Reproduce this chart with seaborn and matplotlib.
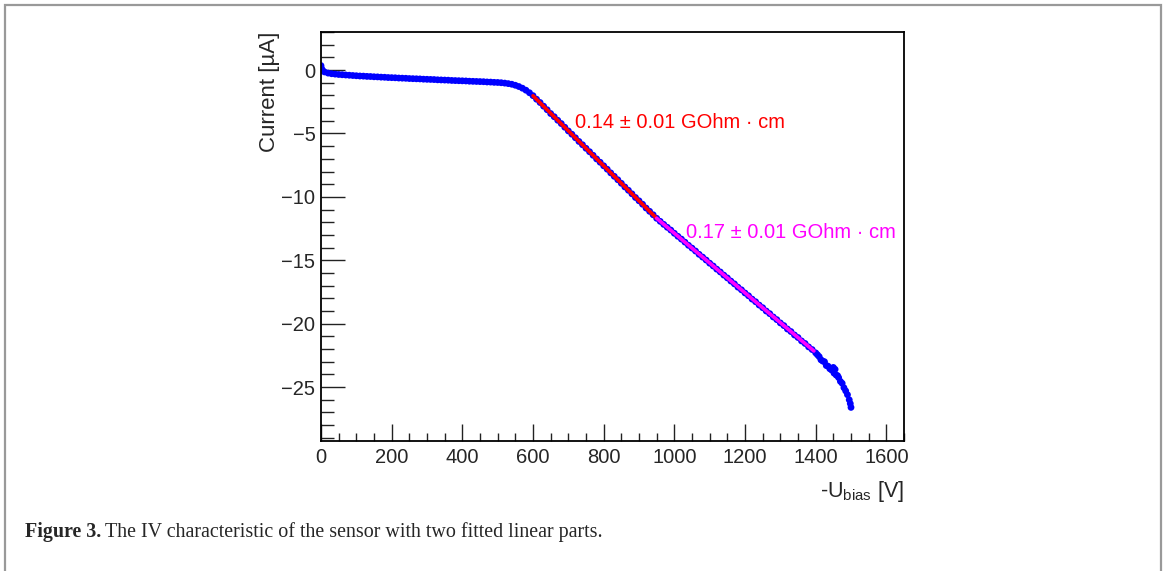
import matplotlib
matplotlib.use("Agg")
import matplotlib.pyplot as plt
from matplotlib.patches import Rectangle
from matplotlib.ticker import MultipleLocator
import seaborn as sns
import pandas as pd

# Measured IV curve: reverse bias voltage [V] and leakage current [uA]
voltage = [
    0, 2, 5, 10, 20, 30, 40, 50, 60, 70, 80, 90, 100,
    110, 120, 130, 140, 150, 160, 170, 180, 190, 200,
    210, 220, 230, 240, 250, 260, 270, 280, 290, 300,
    310, 320, 330, 340, 350, 360, 370, 380, 390, 400,
    410, 420, 430, 440, 450, 460, 470, 480, 490, 500,
    510, 520, 530, 540, 550, 560, 570, 580, 590, 600,
    610, 620, 630, 640, 650, 660, 670, 680, 690, 700,
    710, 720, 730, 740, 750, 760, 770, 780, 790, 800,
    810, 820, 830, 840, 850, 860, 870, 880, 890, 900,
    910, 920, 930, 940, 950, 960, 970, 980, 990, 1000,
    1010, 1020, 1030, 1040, 1050, 1060, 1070, 1080, 1090, 1100,
    1110, 1120, 1130, 1140, 1150, 1160, 1170, 1180, 1190, 1200,
    1210, 1220, 1230, 1240, 1250, 1260, 1270, 1280, 1290, 1300,
    1310, 1320, 1330, 1340, 1350, 1360, 1370, 1380, 1390, 1400,
    1405, 1410, 1415, 1420, 1425, 1430, 1435, 1440, 1445, 1450,
    1452, 1455, 1458, 1462, 1465, 1470, 1475, 1480, 1485, 1490,
    1495, 1498, 1500,
]
current = [
    0.35, 0.10, -0.05, -0.15, -0.24, -0.29, -0.32, -0.35, -0.37, -0.39, -0.41, -0.43, -0.45,
    -0.47, -0.48, -0.50, -0.51, -0.53, -0.54, -0.56, -0.57, -0.59, -0.60,
    -0.61, -0.63, -0.64, -0.65, -0.67, -0.68, -0.69, -0.70, -0.72, -0.73,
    -0.74, -0.75, -0.77, -0.78, -0.79, -0.80, -0.82, -0.83, -0.84, -0.85,
    -0.86, -0.88, -0.89, -0.90, -0.91, -0.92, -0.94, -0.95, -0.97, -0.98,
    -1.00, -1.03, -1.07, -1.12, -1.20, -1.30, -1.43, -1.59, -1.79, -2.02,
    -2.30, -2.56, -2.85, -3.13, -3.43, -3.68, -3.96, -4.22, -4.51, -4.80,
    -5.06, -5.34, -5.63, -5.89, -6.17, -6.44, -6.72, -7.01, -7.27, -7.55,
    -7.82, -8.11, -8.38, -8.65, -8.93, -9.22, -9.48, -9.76, -10.05, -10.31,
    -10.58, -10.88, -11.14, -11.41, -11.69, -11.93, -12.17, -12.40, -12.62, -12.87,
    -13.11, -13.33, -13.57, -13.82, -14.04, -14.27, -14.53, -14.75, -14.98, -15.23,
    -15.45, -15.70, -15.92, -16.17, -16.39, -16.64, -16.86, -17.12, -17.33, -17.58,
    -17.80, -18.06, -18.27, -18.53, -18.74, -19.00, -19.21, -19.47, -19.68, -19.94,
    -20.15, -20.42, -20.62, -20.89, -21.09, -21.36, -21.56, -21.83, -22.04, -22.30,
    -22.45, -22.60, -22.85, -22.95, -23.00, -23.30, -23.35, -23.55, -23.65, -23.45,
    -23.90, -23.60, -24.05, -24.10, -24.25, -24.55, -24.70, -25.05, -25.30, -25.60,
    -26.00, -26.30, -26.60,
]

# Linear fits of the two regions (end points of each fitted segment)
fit_low_v = [600, 950]
fit_low_i = [-2.03, -11.69]
fit_high_v = [950, 1395]
fit_high_i = [-11.69, -22.15]

fit_low_label = "0.14 \u00b1 0.01 GOhm \u00b7 cm"
fit_high_label = "0.17 \u00b1 0.01 GOhm \u00b7 cm"

x_ticks = [0, 200, 400, 600, 800, 1000, 1200, 1400, 1600]
y_ticks = [0, -5, -10, -15, -20, -25]

sns.set_style("white")
plt.rcParams["font.family"] = ["Liberation Sans", "DejaVu Sans"]

fig = plt.figure(figsize=(11.66, 5.71), dpi=100)
ax = fig.add_axes([321 / 1166, 1 - 441 / 571, (904 - 321) / 1166, (441 - 32) / 571])

iv = pd.DataFrame({"U": voltage, "I": current})
sns.scatterplot(data=iv, x="U", y="I", ax=ax, color="#0000ff", s=24,
                linewidth=0, edgecolor="none", zorder=2)

sns.lineplot(x=fit_low_v, y=fit_low_i, ax=ax, color="#ff0000", linewidth=2.6, zorder=3)
sns.lineplot(x=fit_high_v, y=fit_high_i, ax=ax, color="#ff00ff", linewidth=2.6, zorder=3)

ax.text(720, -4.15, fit_low_label, color="#ff0000", fontsize=14.5, va="center", ha="left")
ax.text(1033, -12.8, fit_high_label, color="#ff00ff", fontsize=14.5, va="center", ha="left")

ax.set_xlim(0, 1650)
ax.set_ylim(-29.25, 3.0)
ax.set_xticks(x_ticks)
ax.set_yticks(y_ticks)
ax.xaxis.set_minor_locator(MultipleLocator(50))
ax.yaxis.set_minor_locator(MultipleLocator(1))
ax.tick_params(axis="both", which="both", direction="in", bottom=True, left=True,
               top=False, right=False, labelsize=14.5, color="#222222", width=1.0)
ax.tick_params(axis="y", which="major", length=17, pad=4)
ax.tick_params(axis="y", which="minor", length=9)
ax.tick_params(axis="x", which="major", length=12, pad=5)
ax.tick_params(axis="x", which="minor", length=6)

for sp in ax.spines.values():
    sp.set_visible(True)
    sp.set_color("black")
    sp.set_linewidth(1.3)

ax.set_xlabel("-U$_\\mathregular{bias}$ [V]", fontsize=15.5, loc="right", labelpad=9)
ax.set_ylabel("Current [\u00b5A]", fontsize=16, loc="top", labelpad=1)

# Page frame and figure caption
fig.patches.append(Rectangle((5 / 1166, -0.05), 1156 / 1166, 1 - 5 / 571 + 0.05,
                             transform=fig.transFigure, fill=False,
                             edgecolor="#999999", linewidth=1.6))
fig.text(25 / 1166, 1 - 537 / 571, "Figure 3.", fontsize=14.4, fontweight="bold",
         family="Liberation Serif", va="baseline", ha="left")
fig.text(105 / 1166, 1 - 537 / 571,
         "The IV characteristic of the sensor with two fitted linear parts.",
         fontsize=14.4, family="Liberation Serif", va="baseline", ha="left")

fig.savefig("out.png", dpi=100)
